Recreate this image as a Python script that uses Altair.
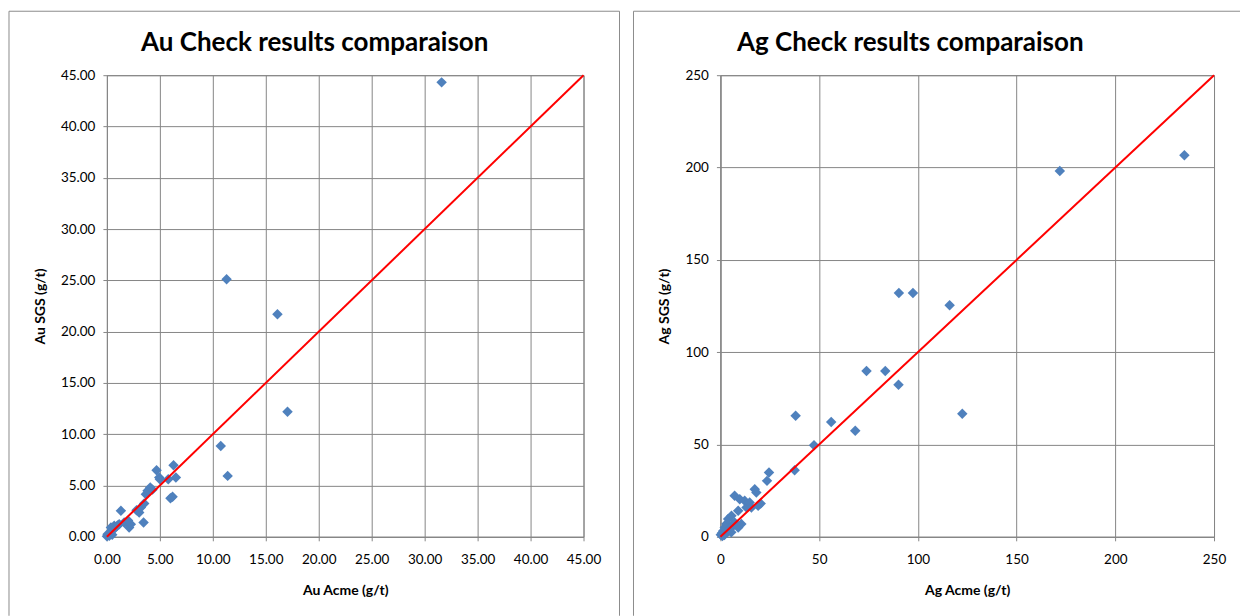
import altair as alt
import pandas as pd

# ---- Au data (g/t) ----
au_acme = [0.00, 0.06, 0.22, 0.38, 0.54, 0.69, 0.30, 0.80, 0.50, 1.00,
           1.16, 1.32, 1.63, 1.95, 2.10, 2.26, 2.00, 2.80, 3.05, 3.20,
           3.46, 3.52, 3.68, 3.84, 4.09, 4.30, 4.69, 4.94, 5.00, 5.79,
           6.00, 6.20, 6.29, 6.51, 10.75, 11.40, 11.30, 16.10, 17.05, 31.60]
au_sgs = [0.05, 0.26, 0.10, 0.90, 0.65, 1.07, 0.40, 0.90, 0.20, 1.10,
          1.23, 2.53, 1.39, 1.40, 0.90, 1.23, 1.60, 2.60, 2.37, 2.86,
          1.40, 3.25, 4.16, 4.48, 4.80, 4.60, 6.49, 5.78, 5.60, 5.62,
          3.75, 3.90, 6.98, 5.78, 8.86, 5.94, 25.10, 21.70, 12.20, 44.30]

# ---- Ag data (g/t) ----
ag_acme = [0.2, 0.8, 1.4, 2.2, 3.0, 3.9, 4.7, 5.6, 6.3, 7.2,
           7.2, 9.0, 9.0, 9.8, 10.6, 12.3, 13.2, 14.8, 15.7, 17.4,
           18.2, 19.1, 20.4, 23.6, 24.6, 37.6, 38.1, 47.4, 56.1, 68.3,
           74.0, 83.5, 90.2, 90.4, 97.5, 116.1, 122.5, 171.9, 235.0,
           2.0, 4.0, 5.5, 1.0]
ag_sgs = [1.1, 2.0, 3.2, 5.0, 6.9, 9.6, 4.2, 11.4, 5.8, 7.7,
          22.2, 14.1, 5.0, 20.4, 6.9, 19.5, 15.9, 18.6, 15.9, 25.8,
          24.0, 16.8, 18.0, 30.3, 34.8, 36.1, 65.6, 49.6, 62.2, 57.4,
          89.8, 89.8, 82.4, 132.0, 132.0, 125.4, 66.7, 198.1, 206.7,
          1.0, 3.0, 2.5, 0.5]

au_ticks = [0, 5, 10, 15, 20, 25, 30, 35, 40, 45]
ag_ticks = [0, 50, 100, 150, 200, 250]

BLUE = "#4F81BD"
GRID = "#868686"
FONT = "Lato"


def panel(xs, ys, ticks, fmt, xtitle, ytitle, title, w, h,
          fx1, fx2, title_x, right_edge=True):
    dmax = ticks[-1]
    df = pd.DataFrame({"x": xs, "y": ys})
    line_df = pd.DataFrame({"x": [0, dmax], "y": [0, dmax]})
    xsc = alt.Scale(domain=[0, dmax], nice=False, zero=True)
    ysc = alt.Scale(domain=[0, dmax], nice=False, zero=True)
    xax = alt.Axis(values=ticks, format=fmt, title=xtitle, grid=True,
                   titlePadding=17, labelPadding=12, labelFlush=False)
    yax = alt.Axis(values=ticks, format=fmt, title=ytitle, grid=True,
                   titlePadding=13, labelPadding=8, labelFlush=False)

    pts = alt.Chart(df).mark_point(shape="diamond", filled=True, size=110,
                                   color=BLUE, opacity=1).encode(
        x=alt.X("x:Q", scale=xsc, axis=xax),
        y=alt.Y("y:Q", scale=ysc, axis=yax),
    )
    line = alt.Chart(line_df).mark_line(color="#FF0000", strokeWidth=2).encode(
        x=alt.X("x:Q", scale=xsc),
        y=alt.Y("y:Q", scale=ysc),
    )
    frame_top = alt.Chart().mark_rule(color="#8C8C8C", strokeWidth=1).encode(
        x=alt.value(fx1), x2=alt.value(fx2), y=alt.value(-64))
    frame_left = alt.Chart().mark_rule(color="#8C8C8C", strokeWidth=1).encode(
        x=alt.value(fx1), y=alt.value(-64), y2=alt.value(541))
    layers = [frame_top, frame_left]
    if right_edge:
        frame_right = alt.Chart().mark_rule(color="#8C8C8C", strokeWidth=1).encode(
            x=alt.value(fx2), y=alt.value(-64), y2=alt.value(541))
        layers.append(frame_right)
    ttl = alt.Chart().mark_text(font=FONT, fontSize=26, fontWeight="bold",
                                color="black", align="center",
                                baseline="alphabetic").encode(
        x=alt.value(title_x), y=alt.value(-24), text=alt.value(title))
    layers += [pts, line, ttl]
    return alt.layer(*layers).properties(width=w, height=h)


left = panel(au_acme, au_sgs, au_ticks, ".2f", "Au Acme (g/t)", "Au SGS (g/t)",
             "Au Check results comparaison", 477, 462, -98, 513, 208)
right = panel(ag_acme, ag_sgs, ag_ticks, "d", "Ag Acme (g/t)", "Ag SGS (g/t)",
              "Ag Check results comparaison", 494, 462, -87, 520, 190,
              right_edge=False)

chart = alt.hconcat(left, right, spacing=12).properties(
    padding={"left": 8, "top": 10, "right": 0, "bottom": 0},
    background="white",
).configure_view(stroke=GRID, strokeWidth=1).configure_axis(
    domainColor=GRID, gridColor=GRID, tickColor=GRID, gridWidth=1,
    domainWidth=1, tickSize=4, labelFont=FONT, labelFontSize=13.5,
    labelColor="black", titleFont=FONT, titleFontSize=14,
    titleFontWeight="bold", titleColor="black", gridOpacity=1,
).configure_point(strokeWidth=0)

chart.save("out.html", embed_options={"renderer": "svg", "actions": False})
